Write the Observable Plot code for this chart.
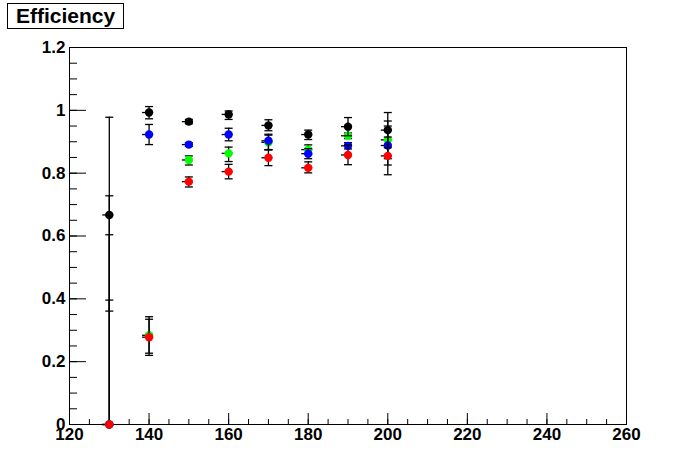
<!DOCTYPE html>
<html>
<head>
<meta charset="utf-8">
<script src="https://cdn.jsdelivr.net/npm/d3@7"></script>
<script src="https://cdn.jsdelivr.net/npm/@observablehq/plot@0.6"></script>
<style>
  html, body { margin: 0; padding: 0; background: white; }
  #wrap { position: relative; width: 696px; height: 472px; }
  #title {
    position: absolute; left: 7px; top: 3px; width: 107px; height: 24px;
    border: 1px solid black; background: white;
    font: bold 21px "Liberation Sans", Arial, sans-serif;
    line-height: 24px; padding-left: 8px; box-sizing: content-box;
  }
</style>
</head>
<body>
<div id="wrap"><div id="title">Efficiency</div></div>
<script>
// ---- data ----
const energies = [130, 140, 150, 160, 170, 180, 190, 200];

const blackEff = [0.667, 0.993, 0.964, 0.987, 0.952, 0.923, 0.948, 0.937];
const blackLo  = [0.361, 0.973, 0.957, 0.971, 0.935, 0.907, 0.919, 0.881];
const blackHi  = [0.978, 1.012, 0.971, 0.998, 0.970, 0.937, 0.977, 0.993];

const blueEff = [0, 0.923, 0.891, 0.923, 0.903, 0.862, 0.887, 0.888];
const blueLo  = [0, 0.891, 0.885, 0.903, 0.875, 0.846, 0.877, 0.826];
const blueHi  = [0.728, 0.955, 0.897, 0.943, 0.924, 0.878, 0.897, 0.950];

const greenEff = [0, 0.284, 0.842, 0.863, 0.898, 0.875, 0.919, 0.906];
const greenLo  = [0, 0.227, 0.826, 0.837, 0.875, 0.860, 0.910, 0.846];
const greenHi  = [0.604, 0.343, 0.855, 0.883, 0.921, 0.890, 0.928, 0.966];

const redEff = [0, 0.278, 0.773, 0.805, 0.849, 0.817, 0.858, 0.855];
const redLo  = [0, 0.220, 0.756, 0.782, 0.824, 0.801, 0.827, 0.795];
const redHi  = [0.396, 0.335, 0.788, 0.828, 0.874, 0.836, 0.889, 0.915];

const xMajorTicks = [120, 140, 160, 180, 200, 220, 240, 260];
const xMinorTicks = d3.range(120, 261, 5);
const yMajorTicks = [0, 0.2, 0.4, 0.6, 0.8, 1.0, 1.2];
const yMinorTicks = d3.range(0, 1.2001, 0.05);

// ---- build ----
const series = [
  {color: "#00ff00", eff: greenEff, lo: greenLo, hi: greenHi},
  {color: "#0000ff", eff: blueEff, lo: blueLo, hi: blueHi},
  {color: "#ff0000", eff: redEff, lo: redLo, hi: redHi},
  {color: "#000000", eff: blackEff, lo: blackLo, hi: blackHi}
];

const W = 696, H = 472;
const mL = 69, mR = 70, mT = 47, mB = 48;
const fw = W - mL - mR, fh = H - mT - mB;

const capSymbol = {draw(ctx) { ctx.moveTo(-4, 0); ctx.lineTo(4, 0); }};
const dashSymbol = {draw(ctx) { ctx.moveTo(-7, 0); ctx.lineTo(4, 0); }};

const marks = [
  Plot.frame({stroke: "black"}),
  Plot.tickY(yMinorTicks, {y: d => d, insetRight: fw - 8, stroke: "black"}),
  Plot.tickY(yMajorTicks, {y: d => d, insetRight: fw - 17, stroke: "black"}),
  Plot.tickX(xMinorTicks, {x: d => d, insetTop: fh - 5, stroke: "black"}),
  Plot.tickX(xMajorTicks, {x: d => d, insetTop: fh - 11, stroke: "black"}),
  Plot.axisY(yMajorTicks, {tickSize: 0, tickPadding: 4, fontSize: 17, fontWeight: "bold",
    tickFormat: d => String(+d.toFixed(1)), label: null}),
  Plot.axisX(xMajorTicks, {tickSize: 0, tickPadding: 3, fontSize: 17, fontWeight: "bold",
    tickFormat: d => String(d), label: null})
];

for (const s of series) {
  const rows = energies.map((e, i) => ({x: e, y: s.eff[i], lo: s.lo[i], hi: s.hi[i]}));
  marks.push(
    Plot.ruleX(rows, {x: "x", y1: "lo", y2: "hi", stroke: "black", strokeWidth: 1.3}),
    Plot.dot(rows, {x: "x", y: "lo", symbol: capSymbol, stroke: "black", fill: "none", strokeWidth: 1.3}),
    Plot.dot(rows, {x: "x", y: "hi", symbol: capSymbol, stroke: "black", fill: "none", strokeWidth: 1.3}),
    Plot.dot(rows, {x: "x", y: "y", symbol: dashSymbol, stroke: "black", fill: "none", strokeWidth: 1.3}),
    Plot.dot(rows, {x: "x", y: "y", r: 4.2, fill: s.color, stroke: "none"})
  );
}

const chart = Plot.plot({
  width: W, height: H,
  marginLeft: mL, marginRight: mR, marginTop: mT, marginBottom: mB,
  x: {domain: [120, 260]},
  y: {domain: [0, 1.2]},
  style: {fontFamily: "'Liberation Sans', Arial, sans-serif", background: "white", color: "black"},
  marks
});
document.getElementById("wrap").prepend(chart);
</script>
</body>
</html>
